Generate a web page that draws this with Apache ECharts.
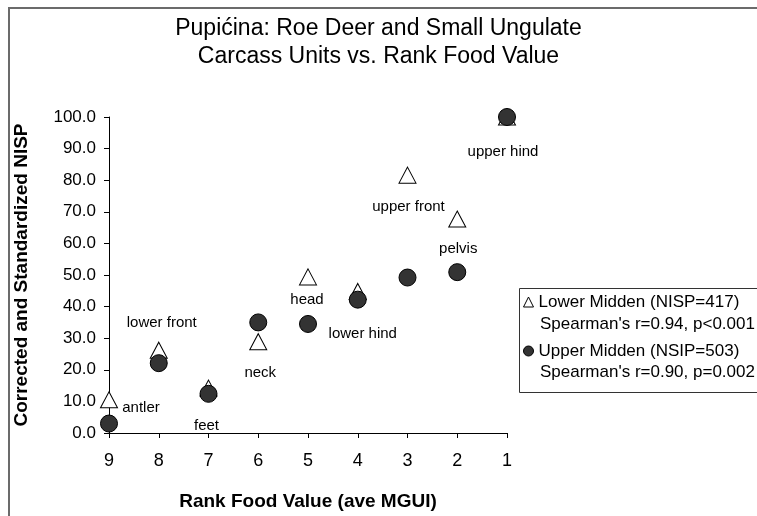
<!DOCTYPE html>
<html>
<head>
<meta charset="utf-8">
<script src="https://cdn.jsdelivr.net/npm/echarts@6/dist/echarts.min.js"></script>
<style>
html,body{margin:0;padding:0;background:#fff;}
#chart{width:757px;height:516px;}
</style>
</head>
<body>
<div id="chart"></div>
<script>
// ---- data ----
var ranks = [9, 8, 7, 6, 5, 4, 3, 2, 1];
var carcassUnits = ['antler', 'lower front', 'feet', 'neck', 'head', 'lower hind', 'upper front', 'pelvis', 'upper hind'];
var lowerMidden = [10.5, 26.2, 14.2, 28.9, 49.4, 44.8, 81.6, 67.7, 100.0];
var upperMidden = [3.0, 22.1, 12.4, 35.0, 34.5, 42.2, 49.2, 50.9, 100.0];
var lowerName = 'Lower Midden (NISP=417)';
var upperName = 'Upper Midden (NSIP=503)';
var lowerStat = "Spearman's r=0.94, p<0.001";
var upperStat = "Spearman's r=0.90, p=0.002";

// ---- label placement (style, pixel offsets from the Lower Midden marker) ----
var labelOffsets = {
  'antler': [32, 8],
  'lower front': [3, -27],
  'feet': [-2, 38],
  'neck': [2, 31],
  'head': [-1, 23],
  'lower hind': [5, 42],
  'upper front': [1, 32],
  'pelvis': [1, 30],
  'upper hind': [-4, 35]
};

var FONT = "'Liberation Sans', Arial, Helvetica, sans-serif";

var lowerData = ranks.map(function (r, i) {
  return {
    name: carcassUnits[i],
    value: [r, lowerMidden[i]],
    label: {
      show: true,
      position: 'inside',
      offset: labelOffsets[carcassUnits[i]],
      formatter: carcassUnits[i],
      color: '#000',
      fontSize: 15,
      fontFamily: FONT
    }
  };
});
var upperData = ranks.map(function (r, i) {
  return { name: carcassUnits[i], value: [r, upperMidden[i]] };
});

var chart = echarts.init(document.getElementById('chart'), null, { renderer: 'canvas' });
chart.setOption({
  animation: false,
  backgroundColor: '#fff',
  textStyle: { fontFamily: FONT, color: '#000' },
  title: {
    text: 'Pupićina: Roe Deer and Small Ungulate\nCarcass Units vs. Rank Food Value',
    left: 'center',
    top: 10,
    textStyle: { fontSize: 23, fontWeight: 'normal', lineHeight: 28, color: '#000', fontFamily: FONT }
  },
  grid: { left: 109, right: 250, top: 117, bottom: 75, containLabel: false },
  xAxis: {
    type: 'value',
    min: 1, max: 9, interval: 1,
    inverse: true,
    name: 'Rank Food Value (ave MGUI)',
    nameLocation: 'middle',
    nameGap: 59,
    nameTextStyle: { fontSize: 19, fontWeight: 'bold', color: '#000', fontFamily: FONT },
    axisLine: { show: true, onZero: false, lineStyle: { color: '#000', width: 1 } },
    axisTick: { show: true, inside: false, length: 5, lineStyle: { color: '#000' } },
    axisLabel: { fontSize: 18, color: '#000', margin: 19, fontFamily: FONT },
    splitLine: { show: false }
  },
  yAxis: {
    type: 'value',
    min: 0, max: 100, interval: 10,
    name: 'Corrected and Standardized NISP',
    nameLocation: 'middle',
    nameGap: 78,
    nameTextStyle: { fontSize: 19, fontWeight: 'bold', color: '#000', fontFamily: FONT },
    axisLine: { show: true, lineStyle: { color: '#000', width: 1 } },
    axisTick: { show: true, inside: false, length: 5, lineStyle: { color: '#000' } },
    axisLabel: { fontSize: 17, color: '#000', margin: 13, fontFamily: FONT,
      formatter: function (v) { return v.toFixed(1); } },
    splitLine: { show: false }
  },
  legend: {
    orient: 'vertical',
    left: 523,
    top: 292,
    itemWidth: 10,
    itemHeight: 10,
    itemGap: 29,
    selectedMode: false,
    padding: 0,
    textStyle: { fontSize: 17, color: '#000', lineHeight: 20, fontFamily: FONT },
    data: [
      { name: lowerName, icon: 'triangle', itemStyle: { color: '#fff', borderColor: '#000', borderWidth: 1 } },
      { name: upperName, icon: 'circle', itemStyle: { color: '#333', borderColor: '#000', borderWidth: 1 } }
    ]
  },
  graphic: [
    { type: 'rect', silent: true, z: -10,
      shape: { x: 9, y: 8, width: 800, height: 600 },
      style: { fill: 'none', stroke: '#6b6b6b', lineWidth: 2 } },
    { type: 'rect', silent: true, z: 0,
      shape: { x: 519.5, y: 288.5, width: 260, height: 104 },
      style: { fill: 'none', stroke: '#333', lineWidth: 1 } },
    { type: 'text', silent: true, x: 540, y: 324,
      style: { text: lowerStat, fontSize: 17, fontFamily: FONT, fill: '#000', verticalAlign: 'middle', align: 'left' } },
    { type: 'text', silent: true, x: 540, y: 372,
      style: { text: upperStat, fontSize: 17, fontFamily: FONT, fill: '#000', verticalAlign: 'middle', align: 'left' } }
  ],
  series: [
    {
      name: lowerName,
      type: 'scatter',
      symbol: 'triangle',
      symbolSize: [17, 16],
      itemStyle: { color: '#fff', borderColor: '#000', borderWidth: 1, opacity: 1 },
      data: lowerData,
      z: 2
    },
    {
      name: upperName,
      type: 'scatter',
      symbol: 'circle',
      symbolSize: 17,
      itemStyle: { color: '#333', borderColor: '#000', borderWidth: 1, opacity: 1 },
      data: upperData,
      z: 3
    }
  ]
});
</script>
</body>
</html>
